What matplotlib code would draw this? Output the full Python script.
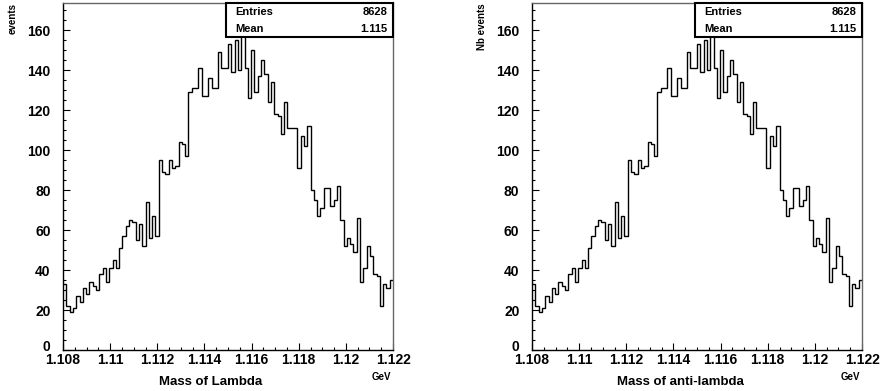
import numpy as np
import matplotlib
matplotlib.use("Agg")
import matplotlib.pyplot as plt
import matplotlib.transforms as mtransforms
from matplotlib.ticker import MultipleLocator, FuncFormatter
from matplotlib.patches import Rectangle

# ---- data ----
x_min, x_max, n_bins = 1.108, 1.122, 100
lambda_counts = [33, 22, 19, 21, 27, 24, 31, 28, 34, 32,
                 30, 38, 41, 34, 41, 45, 41, 51, 57, 62,
                 65, 64, 55, 63, 52, 74, 56, 67, 57, 95,
                 89, 88, 95, 91, 92, 104, 103, 97, 129, 131,
                 131, 141, 127, 127, 136, 131, 131, 149, 141, 141,
                 153, 139, 155, 140, 157, 141, 126, 150, 129, 137,
                 145, 138, 124, 134, 118, 117, 108, 124, 111, 111,
                 111, 91, 107, 102, 112, 80, 75, 67, 71, 81,
                 81, 72, 75, 82, 65, 52, 56, 53, 49, 66,
                 34, 41, 52, 47, 38, 37, 22, 33, 31, 35]
antilambda_counts = list(lambda_counts)
entries_text = ["8628", "8628"]
mean_text = ["1.115", "1.115"]
y_titles = ["events", "Nb events"]
x_titles = ["Mass of Lambda", "Mass of anti-lambda"]
x_unit = "GeV"

plt.rcParams['font.family'] = ['Liberation Sans', 'DejaVu Sans']
plt.rcParams['font.weight'] = 'bold'

W, H = 880, 391
fig = plt.figure(figsize=(W / 100, H / 100), dpi=100)
fig.patch.set_facecolor('white')


def fx(px):
    return px / W


def fy(py):
    return 1 - py / H


edges = np.linspace(x_min, x_max, n_bins + 1)
ax_top, ax_bot = 3, 350
ax_w = 330
box_left_px = [226, 695]

for counts, ent, mn, ytl, xtl, left_px, box_px in zip(
        [lambda_counts, antilambda_counts], entries_text, mean_text,
        y_titles, x_titles, [63, 532], box_left_px):
    ax = fig.add_axes([fx(left_px), fy(ax_bot), ax_w / W, (ax_bot - ax_top) / H])
    ax.stairs(counts, edges, baseline=None, color='black', linewidth=1.0)
    ax.set_xlim(x_min, x_max)
    ax.set_ylim(0, 173.5)
    ax.xaxis.set_major_locator(MultipleLocator(0.002))
    ax.xaxis.set_minor_locator(MultipleLocator(0.0005))
    ax.yaxis.set_major_locator(MultipleLocator(20))
    ax.yaxis.set_minor_locator(MultipleLocator(5))
    ax.xaxis.set_major_formatter(FuncFormatter(
        lambda v, p: f"{v:.3f}".rstrip('0').rstrip('.')))
    ax.tick_params(which='both', direction='in', top=False, right=False,
                   labelsize=10, width=0.8, color='black')
    ax.tick_params(which='major', length=5)
    ax.tick_params(which='minor', length=2.5)
    ax.tick_params(axis='x', pad=2.5)
    ax.tick_params(axis='y', pad=9)
    for lab in ax.get_xticklabels() + ax.get_yticklabels():
        lab.set_fontweight('bold')
    for s in ['left', 'bottom']:
        ax.spines[s].set_color('black')
        ax.spines[s].set_linewidth(1.0)
    for s in ['top', 'right']:
        ax.spines[s].set_color('#666666')
        ax.spines[s].set_linewidth(1.0)

    # lift the "0" label slightly so it does not collide with the first x label
    fig.canvas.draw()
    for tk in ax.yaxis.get_major_ticks():
        if abs(tk.get_loc()) < 1e-9:
            lab = tk.label1
            lab.set_transform(lab.get_transform() +
                              mtransforms.ScaledTranslation(0, 4.5 / 100, fig.dpi_scale_trans))

    # stats box
    bx0 = (box_px - left_px) / ax_w
    by0 = (ax_bot - 37) / (ax_bot - ax_top)
    ax.add_patch(Rectangle((bx0, by0), 1 - bx0, 1 - by0, transform=ax.transAxes,
                           facecolor='white', edgecolor='black', linewidth=1.5,
                           clip_on=False, zorder=5))
    tx_l = bx0 + 9 / ax_w
    tx_r = 1 - 6 / ax_w
    y1 = (ax_bot - 12) / (ax_bot - ax_top)
    y2 = (ax_bot - 29) / (ax_bot - ax_top)
    ax.text(tx_l, y1, "Entries", transform=ax.transAxes, fontsize=8,
            fontweight='bold', ha='left', va='center', zorder=6)
    ax.text(tx_r, y1, ent, transform=ax.transAxes, fontsize=8,
            fontweight='bold', ha='right', va='center', zorder=6)
    ax.text(tx_l, y2, "Mean", transform=ax.transAxes, fontsize=8,
            fontweight='bold', ha='left', va='center', zorder=6)
    ax.text(tx_r, y2, mn, transform=ax.transAxes, fontsize=8,
            fontweight='bold', ha='right', va='center', zorder=6)

    # titles
    fig.text(fx(left_px + 148), fy(382), xtl, fontsize=9.5, fontweight='bold',
             ha='center', va='center')
    fig.text(fx(left_px + 318), fy(377), x_unit, fontsize=7, fontweight='bold',
             ha='center', va='center')
    fig.text(fx(left_px - 50), fy(3), ytl, fontsize=7, fontweight='bold',
             rotation=90, ha='center', va='top')

fig.savefig("out.png", dpi=100, facecolor='white')
